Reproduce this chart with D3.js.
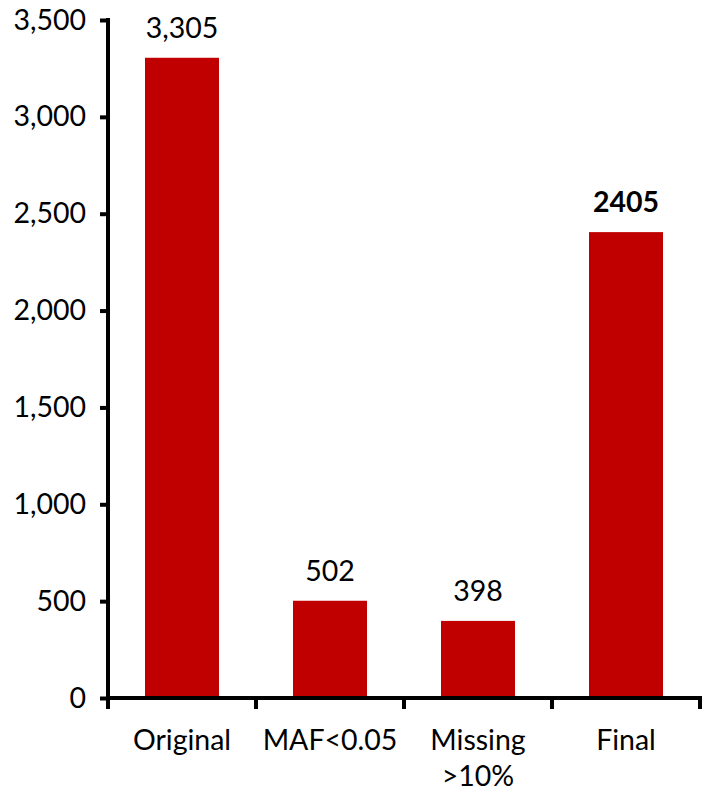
<!DOCTYPE html>
<html>
<head>
<meta charset="utf-8">
<script src="https://cdn.jsdelivr.net/npm/d3@7"></script>
<style>
  html, body { margin: 0; padding: 0; background: #fff; }
  svg text { font-family: Lato, "Open Sans", sans-serif; fill: #000; }
</style>
</head>
<body>
<svg id="chart" width="702" height="795"></svg>
<script>
// SNP counts at each filtering step
const categories = [["Original"], ["MAF<0.05"], ["Missing", ">10%"], ["Final"]];
const values = [3305, 502, 398, 2405];
const valueLabels = ["3,305", "502", "398", "2405"];
const boldLabel = [false, false, false, true];
const yTicks = [0, 500, 1000, 1500, 2000, 2500, 3000, 3500];

const barColor = "#C00000";
const fontSize = 28.5;
const svg = d3.select("#chart");

const x0 = 108, x1 = 700, yBottom = 698, yTop = 20;

const x = d3.scaleBand()
  .domain(d3.range(categories.length))
  .range([x0, x1])
  .paddingInner(0.5)
  .paddingOuter(0.25);

const y = d3.scaleLinear().domain([0, 3500]).range([yBottom, yTop]);

// bars
svg.selectAll("rect.bar")
  .data(values)
  .join("rect")
  .attr("class", "bar")
  .attr("x", (d, i) => x(i))
  .attr("width", x.bandwidth())
  .attr("y", d => y(d))
  .attr("height", d => y(0) - y(d))
  .attr("fill", barColor);

// value labels above bars
svg.selectAll("text.val")
  .data(values)
  .join("text")
  .attr("class", "val")
  .attr("x", (d, i) => x(i) + x.bandwidth() / 2)
  .attr("y", d => y(d) - 20)
  .attr("text-anchor", "middle")
  .attr("font-size", fontSize)
  .attr("font-weight", (d, i) => boldLabel[i] ? "bold" : "normal")
  .text((d, i) => valueLabels[i]);

// y axis
const yAxis = d3.axisLeft(y)
  .tickValues(yTicks)
  .tickFormat(d3.format(","))
  .tickSize(8)
  .tickPadding(14);
const gy = svg.append("g").attr("transform", `translate(${x0},0)`).call(yAxis);
gy.select(".domain").attr("stroke", "#000").attr("stroke-width", 4)
  .attr("d", `M0,${yTop - 2}V${yBottom + 11}`);
gy.selectAll(".tick line").attr("stroke", "#000").attr("stroke-width", 4);
gy.selectAll(".tick text").attr("font-size", fontSize).attr("font-family", "Lato, sans-serif").attr("fill", "#000");

// x axis: ticks at category boundaries
const boundaries = d3.range(categories.length + 1).map(i => x0 + i * x.step());
const gx = svg.append("g");
gx.append("line")
  .attr("x1", x0).attr("x2", x1 + 2)
  .attr("y1", yBottom).attr("y2", yBottom)
  .attr("stroke", "#000").attr("stroke-width", 4);
gx.selectAll("line.xt")
  .data(boundaries)
  .join("line")
  .attr("class", "xt")
  .attr("x1", d => d).attr("x2", d => d)
  .attr("y1", yBottom).attr("y2", yBottom + 11)
  .attr("stroke", "#000").attr("stroke-width", 4);

// category labels
const cat = svg.selectAll("text.cat")
  .data(categories)
  .join("text")
  .attr("class", "cat")
  .attr("text-anchor", "middle")
  .attr("font-size", fontSize)
  .attr("x", (d, i) => x(i) + x.bandwidth() / 2)
  .attr("y", 750);
cat.selectAll("tspan")
  .data(d => d)
  .join("tspan")
  .attr("x", function () { return d3.select(this.parentNode).attr("x"); })
  .attr("dy", (d, j) => j === 0 ? 0 : 36)
  .text(d => d);
</script>
</body>
</html>
